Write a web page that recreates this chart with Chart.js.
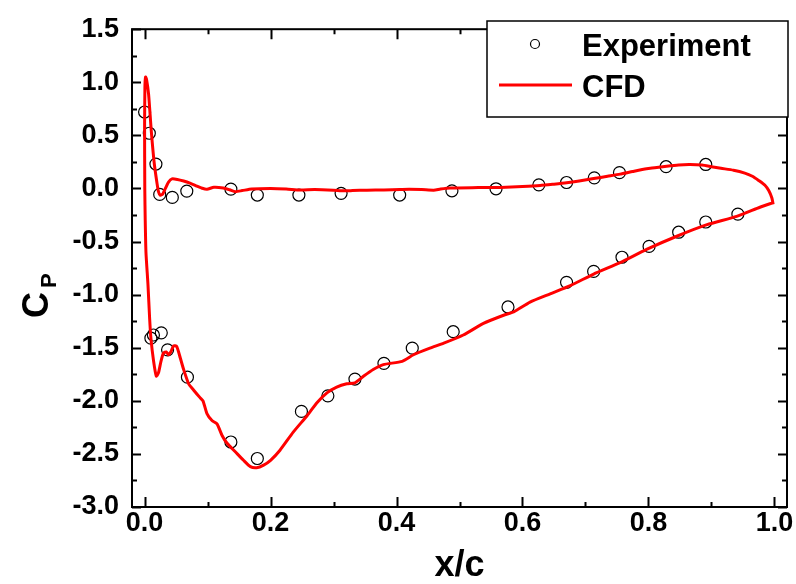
<!DOCTYPE html>
<html>
<head>
<meta charset="utf-8">
<script src="https://cdn.jsdelivr.net/npm/chart.js@4.4.1/dist/chart.umd.min.js"></script>
<style>
  html, body { margin: 0; padding: 0; background: #fff; }
  #wrap { width: 796px; height: 584px; }
</style>
</head>
<body>
<div id="wrap"><canvas id="cpChart" width="796" height="584"></canvas></div>
<script>
// experiment points (pressure side first, then suction side)
var expX = [0.0, 0.0075, 0.018, 0.024, 0.044, 0.067, 0.137, 0.179, 0.245, 0.312, 0.405, 0.488, 0.558, 0.626, 0.670, 0.714, 0.754, 0.828, 0.891,
            0.010, 0.014, 0.0265, 0.0365, 0.068, 0.137, 0.179, 0.249, 0.291, 0.334, 0.380, 0.425, 0.490, 0.577, 0.670, 0.713, 0.758, 0.801, 0.848, 0.891, 0.942];
var expY = [0.72, 0.52, 0.23, -0.056, -0.084, -0.025, -0.006, -0.062, -0.062, -0.046, -0.062, -0.022, -0.003, 0.034, 0.056, 0.10, 0.149, 0.205, 0.226,
            -1.41, -1.38, -1.36, -1.52, -1.777, -2.388, -2.543, -2.10, -1.953, -1.795, -1.647, -1.504, -1.349, -1.116, -0.884, -0.781, -0.648, -0.546, -0.412, -0.316, -0.242];

// CFD curve, one loop: trailing edge -> upper branch -> leading edge -> lower branch -> trailing edge
var cfdX = [0.998, 0.996, 0.991, 0.985, 0.975, 0.965, 0.953, 0.935, 0.915, 0.900, 0.885, 0.866, 0.848, 0.829, 0.810, 0.797, 0.775, 0.755, 0.735, 0.713,
            0.690, 0.670, 0.650, 0.628, 0.600, 0.565, 0.530, 0.485, 0.470, 0.459, 0.440, 0.420, 0.406, 0.380, 0.353, 0.330, 0.316, 0.300, 0.270, 0.247,
            0.225, 0.200, 0.170, 0.155, 0.144, 0.135, 0.125, 0.110, 0.099, 0.090, 0.083, 0.072, 0.062, 0.052, 0.0435, 0.038, 0.033, 0.029, 0.025, 0.022,
            0.0197, 0.0154, 0.0106, 0.0064, 0.003, 0.0015, 0.0005, 0.0, 0.0003, 0.001, 0.0022, 0.0054, 0.008, 0.010, 0.0143, 0.0186, 0.022, 0.026, 0.030, 0.0345,
            0.038, 0.042, 0.046, 0.051, 0.0567, 0.062, 0.070, 0.078, 0.088, 0.0927, 0.099, 0.107, 0.115, 0.123, 0.131, 0.144, 0.157, 0.168, 0.178, 0.189,
            0.200, 0.215, 0.236, 0.258, 0.274, 0.290, 0.305, 0.321, 0.334, 0.348, 0.363, 0.379, 0.409, 0.427, 0.453, 0.475, 0.506, 0.538, 0.570, 0.586,
            0.612, 0.644, 0.676, 0.713, 0.755, 0.797, 0.845, 0.893, 0.940, 0.977, 0.998];
var cfdY = [-0.15, -0.09, -0.02, 0.03, 0.075, 0.115, 0.145, 0.172, 0.19, 0.205, 0.22, 0.226, 0.222, 0.21, 0.195, 0.186, 0.16, 0.135, 0.115, 0.093,
            0.07, 0.053, 0.04, 0.027, 0.018, 0.01, 0.008, 0.005, -0.005, -0.016, -0.01, -0.008, -0.01, -0.014, -0.016, -0.02, -0.022, -0.016, -0.01, -0.014,
            -0.005, 0.0, -0.005, -0.02, -0.03, -0.012, 0.005, 0.012, -0.008, 0.005, 0.022, 0.05, 0.07, 0.085, 0.09, 0.06, 0.0, -0.05, -0.065, -0.03,
            0.05, 0.233, 0.543, 0.884, 1.03, 1.05, 0.95, 0.6, 0.0, -0.3, -0.605, -0.91, -1.225, -1.41, -1.628, -1.767, -1.737, -1.628, -1.55, -1.54,
            -1.566, -1.535, -1.482, -1.488, -1.597, -1.705, -1.84, -1.9, -1.97, -2.0, -2.12, -2.186, -2.217, -2.326, -2.40, -2.48, -2.56, -2.62, -2.63, -2.605,
            -2.56, -2.465, -2.295, -2.14, -2.016, -1.923, -1.87, -1.839, -1.83, -1.767, -1.705, -1.659, -1.628, -1.566, -1.504, -1.457, -1.38, -1.271, -1.194, -1.163,
            -1.07, -0.992, -0.915, -0.806, -0.698, -0.574, -0.45, -0.341, -0.263, -0.177, -0.133];

var xTicks = [0.0, 0.2, 0.4, 0.6, 0.8, 1.0];
var xMinor = [0.1, 0.3, 0.5, 0.7, 0.9];
var yTicks = [-3.0, -2.5, -2.0, -1.5, -1.0, -0.5, 0.0, 0.5, 1.0, 1.5];
var yMinor = [-2.75, -2.25, -1.75, -1.25, -0.75, -0.25, 0.25, 0.75, 1.25];

var FONT = "'Liberation Sans', Arial, sans-serif";

// frame with inward ticks, y title with subscript, boxed legend
var framePlugin = {
  id: 'frame',
  afterDraw: function(chart) {
    var ctx = chart.ctx, a = chart.chartArea;
    var sx = chart.scales.x, sy = chart.scales.y;
    ctx.save();
    ctx.strokeStyle = '#000';
    ctx.lineWidth = 2;
    ctx.strokeRect(a.left, a.top, a.right - a.left, a.bottom - a.top);
    ctx.beginPath();
    function xt(v, len) {
      var p = Math.round(sx.getPixelForValue(v)) + 0.5;
      ctx.moveTo(p, a.bottom); ctx.lineTo(p, a.bottom - len);
      ctx.moveTo(p, a.top); ctx.lineTo(p, a.top + len);
    }
    function yt(v, len) {
      var p = Math.round(sy.getPixelForValue(v)) + 0.5;
      ctx.moveTo(a.left, p); ctx.lineTo(a.left + len, p);
      ctx.moveTo(a.right, p); ctx.lineTo(a.right - len, p);
    }
    xTicks.forEach(function(v) { xt(v, 10); });
    xMinor.forEach(function(v) { xt(v, 5); });
    yTicks.forEach(function(v) { yt(v, 9); });
    yMinor.forEach(function(v) { yt(v, 5); });
    ctx.stroke();

    // y title: C with subscript P
    ctx.fillStyle = '#000';
    ctx.translate(48, 318);
    ctx.rotate(-Math.PI / 2);
    ctx.textBaseline = 'alphabetic';
    ctx.textAlign = 'left';
    ctx.font = 'bold 36px ' + FONT;
    ctx.fillText('C', 0, 0);
    var cw = ctx.measureText('C').width;
    ctx.font = 'bold 22px ' + FONT;
    ctx.fillText('P', cw + 4, 8);
    ctx.setTransform(1, 0, 0, 1, 0, 0);

    // legend
    var ds = chart.data.datasets;
    ctx.fillStyle = '#fff';
    ctx.fillRect(487, 21, 301, 96);
    ctx.lineWidth = 1.5;
    ctx.strokeStyle = '#000';
    ctx.strokeRect(487, 21, 301, 96);
    ctx.beginPath();
    ctx.arc(535, 44, 4.5, 0, Math.PI * 2);
    ctx.lineWidth = 1.2;
    ctx.strokeStyle = ds[0].borderColor;
    ctx.stroke();
    ctx.beginPath();
    ctx.moveTo(499, 85); ctx.lineTo(572, 85);
    ctx.lineWidth = 3;
    ctx.strokeStyle = ds[1].borderColor;
    ctx.stroke();
    ctx.fillStyle = '#000';
    ctx.font = 'bold 31px ' + FONT;
    ctx.textBaseline = 'alphabetic';
    ctx.fillText(ds[0].label, 582, 56);
    ctx.fillText(ds[1].label, 582, 97);
    ctx.restore();
  }
};

var ctx = document.getElementById('cpChart').getContext('2d');
var chart = new Chart(ctx, {
  type: 'scatter',
  data: {
    datasets: [{
      label: 'Experiment',
      data: expX.map(function(x, i) { return { x: x, y: expY[i] }; }),
      showLine: false,
      pointStyle: 'circle',
      pointRadius: 6,
      pointBorderWidth: 1.2,
      borderColor: '#000',
      backgroundColor: 'rgba(0,0,0,0)',
      order: 1
    }, {
      label: 'CFD',
      data: cfdX.map(function(x, i) { return { x: x, y: cfdY[i] }; }),
      showLine: true,
      pointRadius: 0,
      borderColor: '#ff0000',
      borderWidth: 3,
      tension: 0.2,
      fill: false,
      order: 0
    }]
  },
  options: {
    responsive: false,
    devicePixelRatio: 1,
    animation: false,
    layout: { padding: { top: 24, right: 9, left: 0, bottom: 0 } },
    plugins: { legend: { display: false }, tooltip: { enabled: false } },
    scales: {
      x: {
        type: 'linear',
        min: -0.02,
        max: 1.02,
        afterBuildTicks: function(s) { s.ticks = xTicks.map(function(v) { return { value: v }; }); },
        afterFit: function(s) { s.height = 77; },
        grid: { display: false, drawTicks: false },
        border: { display: false },
        ticks: {
          padding: 0,
          color: '#000',
          maxRotation: 0,
          autoSkip: false,
          font: { family: FONT, size: 27, weight: 'bold' },
          callback: function(v) { return v.toFixed(1); }
        },
        title: {
          display: true,
          text: 'x/c',
          color: '#000',
          padding: 0,
          font: { family: FONT, size: 36, weight: 'bold', lineHeight: 1 }
        }
      },
      y: {
        type: 'linear',
        min: -3.0,
        max: 1.5,
        afterBuildTicks: function(s) { s.ticks = yTicks.map(function(v) { return { value: v }; }); },
        afterFit: function(s) { s.width = 132; },
        grid: { display: false, drawTicks: false },
        border: { display: false },
        ticks: {
          padding: 13,
          color: '#000',
          autoSkip: false,
          font: { family: FONT, size: 27, weight: 'bold' },
          callback: function(v) { return v.toFixed(1); }
        }
      }
    }
  },
  plugins: [framePlugin]
});
</script>
</body>
</html>
